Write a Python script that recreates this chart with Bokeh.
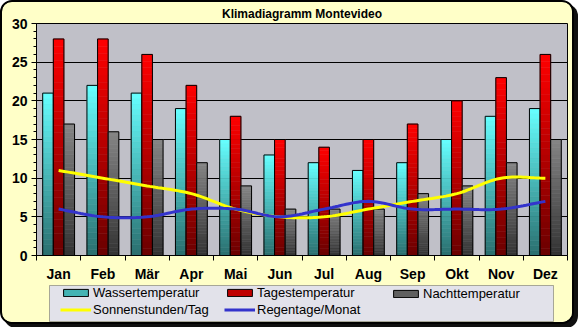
import numpy as np
from bokeh.plotting import figure
from bokeh.layouts import column
from bokeh.models import FixedTicker, Legend, LegendItem, Range1d, BoxAnnotation
from bokeh.embed import file_html
from bokeh.resources import INLINE

months = ["Jan", "Feb", "Mär", "Apr", "Mai", "Jun", "Jul", "Aug", "Sep", "Okt", "Nov", "Dez"]
wasser = [21, 22, 21, 19, 15, 13, 12, 11, 12, 15, 18, 19]
tages = [28, 28, 26, 22, 18, 15, 14, 15, 17, 20, 23, 26]
nacht = [17, 16, 15, 12, 9, 6, 6, 6, 8, 9, 12, 15]
sonne = [11, 10, 9, 8, 6, 5, 5, 6, 7, 8, 10, 10]
regen = [6, 5, 5, 6, 6, 5, 6, 7, 6, 6, 6, 7]

FONT = "Liberation Sans"
BG = "#FFFFC8"
PLOT_BG = "#C0C0C8"
LEG_BG = "#E2E2EA"

W = 570
ML, MR = 34, 5
p = figure(width=W, height=282, output_backend="svg", toolbar_location=None,
           x_range=Range1d(0, 12), y_range=Range1d(0, 30),
           title="Klimadiagramm Montevideo",
           min_border_left=ML, min_border_right=MR, min_border_top=20, min_border_bottom=28)
p.background_fill_color = PLOT_BG
p.border_fill_color = BG
p.outline_line_color = "black"
p.outline_line_width = 1

p.title.align = "center"
p.title.text_font = FONT
p.title.text_font_size = "12px"
p.title.text_font_style = "bold"
p.title.text_color = "black"
p.title.standoff = 5
p.title.offset = -13

xc = np.arange(len(months)) + 0.5
bw = 0.24
offsets = [-bw, 0.0, bw]

COLS = {
    "w": ("#66FFFF", "#2A6E6E", "#44B4B4"),
    "t": ("#FF0000", "#6A0000", "#C00000"),
    "n": ("#858585", "#333333", "#606060"),
}


def hex2rgb(h):
    h = h.lstrip("#")
    return np.array([int(h[i:i + 2], 16) for i in (0, 2, 4)], dtype=float)


def grad_bars(values, off, key, n=30):
    top_col, bot_col, mid_col = COLS[key]
    x0 = xc + off - bw / 2
    x1 = xc + off + bw / 2
    vals = np.array(values, dtype=float)
    L, R, B, T, C = [], [], [], [], []
    tc, bc = hex2rgb(top_col), hex2rgb(bot_col)
    for i, v in enumerate(vals):
        for k in range(n):
            f = (k + 0.5) / n
            c = bc + (tc - bc) * f
            L.append(x0[i]); R.append(x1[i])
            B.append(v * k / n); T.append(v * (k + 1) / n)
            C.append("#%02x%02x%02x" % tuple(int(round(z)) for z in c))
    p.quad(left=L, right=R, bottom=B, top=T, fill_color=C, line_color=C, line_width=0.5)
    p.quad(left=x0, right=x1, bottom=0, top=vals, fill_color=None,
           line_color="black", line_width=1)


def smooth(xs, ys, steps=16):
    xs = np.asarray(xs, float); ys = np.asarray(ys, float)
    px = np.concatenate([[2 * xs[0] - xs[1]], xs, [2 * xs[-1] - xs[-2]]])
    py = np.concatenate([[2 * ys[0] - ys[1]], ys, [2 * ys[-1] - ys[-2]]])
    ox, oy = [], []
    for i in range(1, len(px) - 2):
        for t in np.linspace(0, 1, steps, endpoint=False):
            t2, t3 = t * t, t * t * t
            for arr, out in ((px, ox), (py, oy)):
                p0, p1, p2, p3 = arr[i - 1], arr[i], arr[i + 1], arr[i + 2]
                out.append(0.5 * ((2 * p1) + (-p0 + p2) * t +
                                  (2 * p0 - 5 * p1 + 4 * p2 - p3) * t2 +
                                  (-p0 + 3 * p1 - 3 * p2 + p3) * t3))
    ox.append(xs[-1]); oy.append(ys[-1])
    return ox, oy


grad_bars(wasser, offsets[0], "w")
grad_bars(tages, offsets[1], "t")
grad_bars(nacht, offsets[2], "n")

SUN_C = "#FFFF00"
RAIN_C = "#3333CC"
sx, sy = smooth(xc, sonne)
p.line(sx, sy, line_color=SUN_C, line_width=3)
rx, ry = smooth(xc, regen)
p.line(rx, ry, line_color=RAIN_C, line_width=3)

p.xgrid.grid_line_color = None
p.ygrid.grid_line_color = "black"
p.ygrid.grid_line_width = 1
p.ygrid.ticker = FixedTicker(ticks=[5, 10, 15, 20, 25])

p.xaxis.ticker = FixedTicker(ticks=list(xc), minor_ticks=list(range(13)))
p.xaxis.major_label_overrides = {float(x): m for x, m in zip(xc, months)}
p.xaxis.major_tick_out = 0
p.xaxis.major_tick_in = 0
p.xaxis.minor_tick_out = 5
p.xaxis.minor_tick_in = 0
p.xaxis.minor_tick_line_color = "black"
p.xaxis.major_label_standoff = 5

p.yaxis.ticker = FixedTicker(ticks=[0, 5, 10, 15, 20, 25, 30], minor_ticks=list(range(31)))
p.yaxis.major_tick_out = 5
p.yaxis.major_tick_in = 0
p.yaxis.minor_tick_out = 3
p.yaxis.minor_tick_in = 0
p.yaxis.minor_tick_line_color = "black"
p.yaxis.major_label_standoff = 4

for ax in (p.xaxis, p.yaxis):
    ax.axis_line_color = "black"
    ax.major_tick_line_color = "black"
    ax.major_label_text_font = FONT
    ax.major_label_text_font_size = "14px"
    ax.major_label_text_font_style = "bold"
    ax.major_label_text_color = "black"

# legend strip below the chart; its x/y ranges are in canvas pixels
LH = 38
q = figure(width=W, height=LH, output_backend="svg", toolbar_location=None,
           x_range=Range1d(ML, W - MR), y_range=Range1d(0, LH),
           min_border_left=ML, min_border_right=MR, min_border_top=0, min_border_bottom=0)
q.axis.visible = False
q.grid.visible = False
q.background_fill_color = BG
q.border_fill_color = BG
q.outline_line_color = None

q.add_layout(BoxAnnotation(left=47, right=551, bottom=1, top=37,
                           fill_color=LEG_BG, fill_alpha=1,
                           line_color="black", line_width=1, level="underlay"))

nan = [float("nan")]
lw = q.quad(left=nan, right=nan, top=nan, bottom=nan, fill_color=COLS["w"][2], line_color="black")
lt = q.quad(left=nan, right=nan, top=nan, bottom=nan, fill_color=COLS["t"][2], line_color="black")
ln = q.quad(left=nan, right=nan, top=nan, bottom=nan, fill_color=COLS["n"][2], line_color="black")
ls = q.line(x=nan, y=nan, line_color=SUN_C, line_width=3)
lr = q.line(x=nan, y=nan, line_color=RAIN_C, line_width=3)

groups = [
    ([("Wassertemperatur", lw), ("Sonnenstunden/Tag", ls)], (24, 5)),
    ([("Tagestemperatur", lt), ("Regentage/Monat", lr)], (188, 5)),
    ([("Nachttemperatur", ln)], (354, 21)),
]
for items, loc in groups:
    lg = Legend(items=[LegendItem(label=t, renderers=[r]) for t, r in items],
                location=loc, orientation="vertical")
    lg.label_text_font = FONT
    lg.label_text_font_size = "13px"
    lg.label_text_color = "black"
    lg.label_height = 14
    lg.label_standoff = 2
    lg.glyph_width = 31
    lg.glyph_height = 9
    lg.spacing = 2
    lg.padding = 0
    lg.margin = 0
    lg.border_line_color = None
    lg.background_fill_alpha = 0
    q.add_layout(lg, "center")

layout = column(p, q, spacing=0)
layout.styles = {"border": "2px solid black", "border-radius": "12px",
                 "box-shadow": "4px 4px 0 #101010", "overflow": "hidden",
                 "background-color": BG}

open("out.html", "w").write(file_html(layout, INLINE))
